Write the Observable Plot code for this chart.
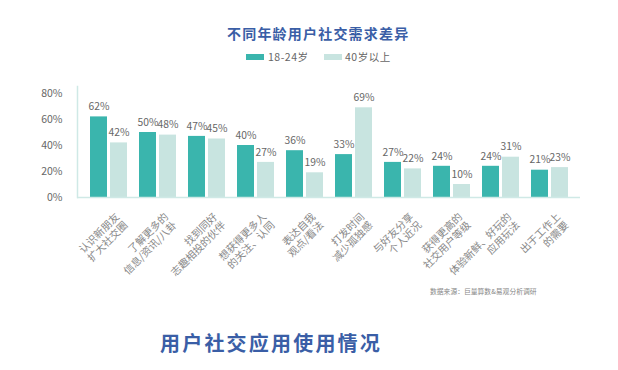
<!DOCTYPE html>
<html>
<head>
<meta charset="utf-8">
<script src="https://cdn.jsdelivr.net/npm/d3@7"></script>
<script src="https://cdn.jsdelivr.net/npm/@observablehq/plot@0.6"></script>
<style>
  html, body { margin: 0; padding: 0; background: #fff; }
  body { width: 618px; height: 370px; position: relative; overflow: hidden;
         font-family: "Noto Sans CJK SC", "Noto Sans", sans-serif; }
  .abs { position: absolute; white-space: nowrap; }
  #title { left: 227px; top: 23px; font-size: 14px; font-weight: 700; color: #3a5ea6; line-height: 20px; letter-spacing: 1.2px; }
  .sw { position: absolute; width: 18px; height: 6px; top: 54px; }
  .lg { position: absolute; top: 49px; font-size: 10.5px; color: #666; line-height: 16px; letter-spacing: 0.5px; }
  #chart { position: absolute; left: 0; top: 80px; }
  #caption { left: 430px; top: 286px; font-size: 6.8px; color: #888; line-height: 10px; }
  #heading { left: 160px; top: 329px; font-size: 20px; font-weight: 700; color: #3a5ea6; line-height: 28px; letter-spacing: 2.2px; }
</style>
</head>
<body>
<div id="title" class="abs">不同年龄用户社交需求差异</div>
<div id="legend"></div>
<div id="chart"></div>
<div id="caption" class="abs">数据来源：巨量算数&amp;易观分析调研</div>
<div id="heading" class="abs">用户社交应用使用情况</div>
<script>
const categories = [
  "认识新朋友\n扩大社交圈",
  "了解更多的\n信息/资讯/八卦",
  "找到同好\n志趣相投的伙伴",
  "想获得更多人\n的关注、认同",
  "表达自我\n观点/看法",
  "打发时间\n减少孤独感",
  "与好友分享\n个人近况",
  "获得更高的\n社交用户等级",
  "体验新鲜、好玩的\n应用玩法",
  "出于工作上\n的需要"
];
const seriesNames = ["18-24岁", "40岁以上"];
const young = [62, 50, 47, 40, 36, 33, 27, 24, 24, 21];
const old = [42, 48, 45, 27, 19, 69, 22, 10, 31, 23];
const yTicks = [0, 20, 40, 60, 80];
const colors = ["#3ab5ad", "#c8e4e0"];

// legend
const legend = document.getElementById("legend");
const lgPos = [[246, 268], [324, 345]];
seriesNames.forEach((n, i) => {
  const s = document.createElement("div");
  s.className = "sw"; s.style.left = lgPos[i][0] + "px"; s.style.background = colors[i];
  legend.appendChild(s);
  const t = document.createElement("div");
  t.className = "lg"; t.style.left = lgPos[i][1] + "px"; t.textContent = n;
  legend.appendChild(t);
});

const youngData = categories.map((c, i) => ({cat: c, v: young[i]}));
const oldData = categories.map((c, i) => ({cat: c, v: old[i]}));

const plot = Plot.plot({
  width: 618,
  height: 200,
  marginTop: 6,
  marginBottom: 83,
  marginLeft: 77,
  marginRight: 38,
  style: {fontFamily: '"Noto Sans CJK SC", "Noto Sans", sans-serif', background: "transparent"},
  x: {type: "band", domain: categories, paddingInner: 0, paddingOuter: 0.11, label: null},
  y: {domain: [0, 80], insetTop: 7, label: null},
  marks: [
    Plot.barY(youngData, {x: "cat", y: "v", fill: colors[0], insetLeft: 6, insetRight: 26}),
    Plot.barY(oldData, {x: "cat", y: "v", fill: colors[1], insetLeft: 26, insetRight: 6}),
    Plot.text(youngData, {x: "cat", y: "v", text: d => d.v + "%", dx: -10, dy: -10, fill: "#666", fontSize: 10.3}),
    Plot.text(oldData, {x: "cat", y: "v", text: d => d.v + "%", dx: 10, dy: -10, fill: "#666", fontSize: 10.3}),
    Plot.axisY({ticks: yTicks, tickFormat: d => d + "%", tickSize: 0, tickPadding: 15, fontSize: 10.5, fill: "#666", label: null}),
    Plot.axisX({tickSize: 0, tickPadding: 14, dx: 5, tickRotate: -45, textAnchor: "end", lineAnchor: "top", fontSize: 10.3, fill: "#888", lineHeight: 1.15, label: null}),
    Plot.ruleY([0], {stroke: "#cfe9e6", strokeWidth: 1.5}),
    Plot.frame({anchor: "left", stroke: "#cfe9e6", strokeWidth: 1.5})
  ]
});
document.getElementById("chart").appendChild(plot);
</script>
</body>
</html>
